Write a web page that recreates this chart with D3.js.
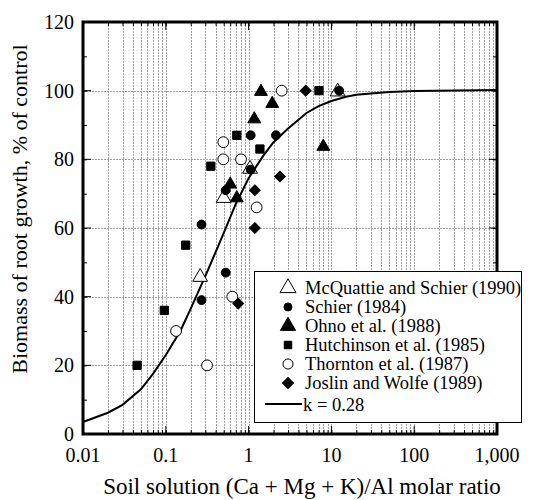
<!DOCTYPE html>
<html>
<head>
<meta charset="utf-8">
<script src="https://cdn.jsdelivr.net/npm/d3@7"></script>
<style>
  body { margin: 0; background: #fff; }
  text { font-family: 'Liberation Serif', 'DejaVu Serif', serif; }
</style>
</head>
<body>
<div id="output"></div>
<script>
const width = 533;
const height = 500;

// data: [ratio, % of control]
const mcquattie = [[0.26, 46], [0.5, 69], [1.04, 77.5], [11.9, 100]];
const schier = [[0.27, 61], [0.53, 71], [1.06, 87], [1.06, 77], [2.14, 87], [12.4, 100], [0.27, 39], [0.53, 47]];
const ohno = [[1.41, 100], [1.93, 96.5], [1.17, 92], [0.6, 73], [0.72, 69], [7.98, 84]];
const hutchinson = [[0.045, 20], [0.096, 36], [0.174, 55], [0.35, 78], [0.72, 87], [1.37, 83], [7.08, 100]];
const thornton = [[0.133, 30], [0.315, 20], [0.635, 40], [0.495, 85], [0.495, 80], [0.81, 80], [1.25, 66], [2.51, 100]];
const joslin = [[0.75, 38], [1.19, 60], [1.19, 71], [2.39, 75], [4.89, 100]];

// fitted curve, k = 0.28
const curveX = [0.01, 0.02, 0.03, 0.05, 0.07, 0.1, 0.15, 0.2, 0.3, 0.4, 0.5, 0.7, 1, 1.5, 2, 3, 5, 7, 10, 15, 20, 30, 50, 100, 1000];
const curveY = [3.5, 6.2, 8.5, 13, 17.5, 23, 30, 36.5, 46, 53, 58.5, 67, 74.5, 81, 85, 89, 93.5, 95.5, 97, 98.2, 98.8, 99.2, 99.6, 99.9, 100.2];

const xMajor = [0.01, 0.1, 1, 10, 100, 1000];
const xTickLabels = ['0.01', '0.1', '1', '10', '100', '1,000'];
const yMajor = [0, 20, 40, 60, 80, 100, 120];

const legendNames = ['McQuattie and Schier (1990)', 'Schier (1984)', 'Ohno et al. (1988)',
    'Hutchinson et al. (1985)', 'Thornton et al. (1987)', 'Joslin and Wolfe (1989)'];

const pLeft = 83, pRight = 497, pTop = 22, pBottom = 434;

let svg = d3.select('#output').append('svg')
    .attr('width', width)
    .attr('height', height);

let x = d3.scaleLog().domain([0.01, 1000]).range([pLeft, pRight]);
let y = d3.scaleLinear().domain([0, 120]).range([pBottom, pTop]);

// minor log positions 1..9 per decade
let xMinor = [];
for (let d = -2; d < 3; d++) {
    for (let m = 1; m < 10; m++) xMinor.push(m * Math.pow(10, d));
}
xMinor.push(1000);
let yMinor = d3.range(0, 121, 10);

// grid
let grid = svg.append('g')
    .attr('stroke', '#a0a0a0')
    .attr('stroke-width', 1)
    .attr('stroke-dasharray', '2,1');
grid.selectAll('line.v')
    .data(xMinor.filter(v => v > 0.01 && v < 1000))
    .enter().append('line')
    .attr('x1', d => Math.round(x(d)) + 0.5)
    .attr('x2', d => Math.round(x(d)) + 0.5)
    .attr('y1', pTop)
    .attr('y2', pBottom);
grid.selectAll('line.h')
    .data(yMajor.filter(v => v > 0 && v < 120))
    .enter().append('line')
    .attr('x1', pLeft)
    .attr('x2', pRight)
    .attr('y1', d => Math.round(y(d)) + 0.5)
    .attr('y2', d => Math.round(y(d)) + 0.5);

// axes with inward ticks, mirrored on top and right
let xAxisBottom = d3.axisBottom(x).tickValues(xMinor).tickFormat('')
    .tickSizeInner(-4).tickSizeOuter(0);
let xAxisTop = d3.axisTop(x).tickValues(xMinor).tickFormat('')
    .tickSizeInner(-4).tickSizeOuter(0);
let yAxisLeft = d3.axisLeft(y).tickValues(yMinor).tickFormat('')
    .tickSizeInner(-4).tickSizeOuter(0);
let yAxisRight = d3.axisRight(y).tickValues(yMinor).tickFormat('')
    .tickSizeInner(-4).tickSizeOuter(0);

[[xAxisBottom, 'translate(0,' + pBottom + ')'], [xAxisTop, 'translate(0,' + pTop + ')'],
 [yAxisLeft, 'translate(' + pLeft + ',0)'], [yAxisRight, 'translate(' + pRight + ',0)']]
    .forEach(([ax, tr]) => {
        let g = svg.append('g').attr('transform', tr).call(ax);
        g.select('.domain').remove();
        g.selectAll('line').attr('stroke', '#000').attr('stroke-width', 1);
    });

// longer ticks on majors
svg.append('g').selectAll('line')
    .data(xMajor)
    .enter().append('line')
    .attr('x1', d => x(d)).attr('x2', d => x(d))
    .attr('y1', pBottom).attr('y2', pBottom - 8)
    .attr('stroke', '#000');
svg.append('g').selectAll('line')
    .data(xMajor)
    .enter().append('line')
    .attr('x1', d => x(d)).attr('x2', d => x(d))
    .attr('y1', pTop).attr('y2', pTop + 8)
    .attr('stroke', '#000');
svg.append('g').selectAll('line')
    .data(yMajor)
    .enter().append('line')
    .attr('x1', pLeft).attr('x2', pLeft + 8)
    .attr('y1', d => y(d)).attr('y2', d => y(d))
    .attr('stroke', '#000');
svg.append('g').selectAll('line')
    .data(yMajor)
    .enter().append('line')
    .attr('x1', pRight).attr('x2', pRight - 8)
    .attr('y1', d => y(d)).attr('y2', d => y(d))
    .attr('stroke', '#000');

// tick labels
svg.append('g').selectAll('text')
    .data(xMajor)
    .enter().append('text')
    .attr('x', d => x(d))
    .attr('y', 462)
    .attr('text-anchor', 'middle')
    .attr('font-size', 20)
    .text((d, i) => xTickLabels[i]);
svg.append('g').selectAll('text')
    .data(yMajor)
    .enter().append('text')
    .attr('x', 74)
    .attr('y', d => y(d) + 7)
    .attr('text-anchor', 'end')
    .attr('font-size', 20)
    .text(d => d);

// axis titles
svg.append('text')
    .attr('x', (pLeft + pRight) / 2 + 12)
    .attr('y', 494)
    .attr('text-anchor', 'middle')
    .attr('font-size', 23)
    .text('Soil solution (Ca + Mg + K)/Al molar ratio');
svg.append('text')
    .attr('transform', 'translate(27,209) rotate(-90)')
    .attr('text-anchor', 'middle')
    .attr('font-size', 22)
    .text('Biomass of root growth, % of control');

// fitted curve
let line = d3.line()
    .x((d, i) => x(curveX[i]))
    .y((d, i) => y(curveY[i]));
svg.append('path')
    .attr('d', line(curveX))
    .attr('fill', 'none')
    .attr('stroke', '#000')
    .attr('stroke-width', 2);

// symbols
const triOpen = d3.symbol().type(d3.symbolTriangle).size(95);
const triFilled = d3.symbol().type(d3.symbolTriangle).size(72);
const circFilled = d3.symbol().type(d3.symbolCircle).size(62);
const circOpen = d3.symbol().type(d3.symbolCircle).size(92);
const squareSym = d3.symbol().type(d3.symbolSquare).size(68);
const diamondSym = d3.symbol().type(d3.symbolSquare).size(58);

const series = [
    {data: mcquattie, sym: triOpen, fill: '#fff', rot: 0, dy: 1},
    {data: schier, sym: circFilled, fill: '#000', rot: 0, dy: 0},
    {data: ohno, sym: triFilled, fill: '#000', rot: 0, dy: 1},
    {data: hutchinson, sym: squareSym, fill: '#000', rot: 0, dy: 0},
    {data: thornton, sym: circOpen, fill: '#fff', rot: 0, dy: 0},
    {data: joslin, sym: diamondSym, fill: '#000', rot: 45, dy: 0}
];

series.forEach(s => {
    svg.append('g').selectAll('path')
        .data(s.data)
        .enter().append('path')
        .attr('d', s.sym())
        .attr('transform', d => 'translate(' + x(d[0]) + ',' + (y(d[1]) + s.dy) + ') rotate(' + s.rot + ')')
        .attr('fill', s.fill)
        .attr('stroke', '#000')
        .attr('stroke-width', 1);
});

// frame
svg.append('rect')
    .attr('x', pLeft)
    .attr('y', pTop)
    .attr('width', pRight - pLeft)
    .attr('height', pBottom - pTop)
    .attr('fill', 'none')
    .attr('stroke', '#000')
    .attr('stroke-width', 3);

// legend
let legend = svg.append('g');
legend.append('rect')
    .attr('x', 254.5)
    .attr('y', 271.5)
    .attr('width', 267)
    .attr('height', 151)
    .attr('fill', '#fff')
    .attr('stroke', '#000')
    .attr('stroke-width', 1);

const legendSyms = [
    {sym: d3.symbol().type(d3.symbolTriangle).size(110), fill: '#fff', rot: 0},
    {sym: d3.symbol().type(d3.symbolCircle).size(50), fill: '#000', rot: 0},
    {sym: d3.symbol().type(d3.symbolTriangle).size(100), fill: '#000', rot: 0},
    {sym: d3.symbol().type(d3.symbolSquare).size(56), fill: '#000', rot: 0},
    {sym: d3.symbol().type(d3.symbolCircle).size(80), fill: '#fff', rot: 0},
    {sym: d3.symbol().type(d3.symbolSquare).size(62), fill: '#000', rot: 45}
];
const rowY = [294, 313, 332, 351, 370, 389];

legendNames.forEach((name, i) => {
    let ls = legendSyms[i];
    legend.append('path')
        .attr('d', ls.sym())
        .attr('transform', 'translate(288,' + (rowY[i] - 6) + ') rotate(' + ls.rot + ')')
        .attr('fill', ls.fill)
        .attr('stroke', '#000')
        .attr('stroke-width', 1);
    legend.append('text')
        .attr('x', 305)
        .attr('y', rowY[i])
        .attr('font-size', 18.5)
        .text(name);
});
legend.append('line')
    .attr('x1', 265).attr('x2', 302)
    .attr('y1', 404).attr('y2', 404)
    .attr('stroke', '#000')
    .attr('stroke-width', 2);
legend.append('text')
    .attr('x', 303)
    .attr('y', 411)
    .attr('font-size', 18.5)
    .text('k = 0.28');
</script>
</body>
</html>
